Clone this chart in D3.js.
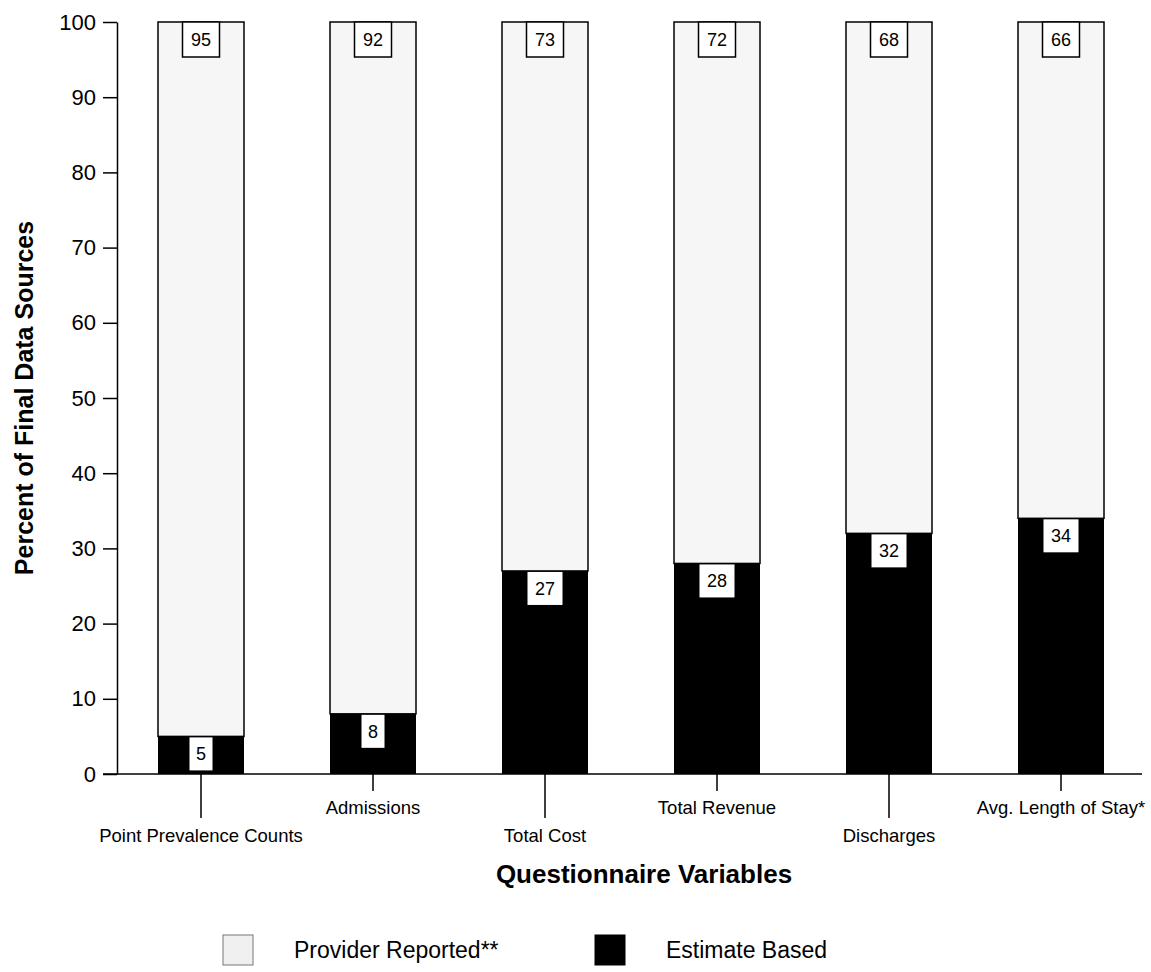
<!DOCTYPE html>
<html>
<head>
<meta charset="utf-8">
<script src="https://cdn.jsdelivr.net/npm/d3@7"></script>
<style>
  html, body { margin: 0; padding: 0; background: #fff; }
  svg { display: block; font-family: Arial, "Liberation Sans", sans-serif; }
</style>
</head>
<body>
<svg id="chart" width="1151" height="972"></svg>
<script>
// ---- data ----
const categories = ["Point Prevalence Counts", "Admissions", "Total Cost", "Total Revenue", "Discharges", "Avg. Length of Stay*"];
const estimateBased = [5, 8, 27, 28, 32, 34];
const providerReported = [95, 92, 73, 72, 68, 66];
const yTicks = [0, 10, 20, 30, 40, 50, 60, 70, 80, 90, 100];
const seriesNames = ["Provider Reported**", "Estimate Based"];

// ---- layout ----
const svg = d3.select("#chart");
const y = d3.scaleLinear().domain([0, 100]).range([774, 22]);
const x = d3.scalePoint().domain(categories).range([201, 1061]);
const barW = 86;
const axisX = 117;

const providerFill = "#f6f6f6";

// y axis
const yAxis = d3.axisLeft(y).tickValues(yTicks).tickSize(14).tickPadding(7).tickSizeOuter(0);
const yg = svg.append("g").attr("transform", `translate(${axisX},0)`).call(yAxis);
yg.select(".domain").attr("stroke", "#000").attr("stroke-width", 1.5);
yg.selectAll(".tick line").attr("stroke", "#000").attr("stroke-width", 1.5);
yg.selectAll(".tick text").attr("font-size", 22).attr("fill", "#000")
  .attr("font-family", "Arial, 'Liberation Sans', sans-serif");

// x axis baseline
svg.append("line")
  .attr("x1", axisX - 14).attr("x2", 1142)
  .attr("y1", y(0)).attr("y2", y(0))
  .attr("stroke", "#000").attr("stroke-width", 1.5);

// bars
const rows = categories.map((c, i) => ({ c, i, est: estimateBased[i], prov: providerReported[i] }));

const bars = svg.append("g").selectAll("g").data(rows).join("g");
// provider (top segment)
bars.append("rect")
  .attr("x", d => x(d.c) - barW / 2)
  .attr("y", d => y(d.est + d.prov))
  .attr("width", barW)
  .attr("height", d => y(d.est) - y(d.est + d.prov))
  .attr("fill", providerFill)
  .attr("stroke", "#000").attr("stroke-width", 1.5);
// estimate (bottom segment)
bars.append("rect")
  .attr("x", d => x(d.c) - barW / 2)
  .attr("y", d => y(d.est))
  .attr("width", barW)
  .attr("height", d => y(0) - y(d.est))
  .attr("fill", "#000");

// value labels
bars.each(function(d) {
  const g = d3.select(this);
  const cx = x(d.c);
  const t = String(d.prov);
  const w = t.length === 1 ? 23 : 37;
  g.append("rect")
    .attr("x", cx - w / 2).attr("y", y(d.est + d.prov))
    .attr("width", w).attr("height", 35)
    .attr("fill", "#fff").attr("stroke", "#000").attr("stroke-width", 1.5);
  g.append("text")
    .attr("x", cx).attr("y", y(d.est + d.prov) + 24)
    .attr("text-anchor", "middle").attr("font-size", 18).attr("fill", "#000")
    .text(t);
  const t2 = String(d.est);
  const w2 = t2.length === 1 ? 23 : 35;
  g.append("rect")
    .attr("x", cx - w2 / 2).attr("y", y(d.est) + 1)
    .attr("width", w2).attr("height", 33)
    .attr("fill", "#fff");
  g.append("text")
    .attr("x", cx).attr("y", y(d.est) + 24)
    .attr("text-anchor", "middle").attr("font-size", 18).attr("fill", "#000")
    .text(t2);
});

// category ticks and staggered labels
const catG = svg.append("g").selectAll("g").data(rows).join("g");
catG.append("line")
  .attr("x1", d => x(d.c)).attr("x2", d => x(d.c))
  .attr("y1", y(0)).attr("y2", d => d.i % 2 === 0 ? 818 : 791)
  .attr("stroke", "#000").attr("stroke-width", 1.5);
catG.append("text")
  .attr("x", d => x(d.c))
  .attr("y", d => d.i % 2 === 0 ? 842 : 814)
  .attr("text-anchor", "middle").attr("font-size", 18.5).attr("fill", "#000")
  .text(d => d.c);

// axis titles
svg.append("text")
  .attr("transform", `translate(33, ${y(50)}) rotate(-90)`)
  .attr("text-anchor", "middle").attr("font-size", 25).attr("font-weight", "bold")
  .text("Percent of Final Data Sources");
svg.append("text")
  .attr("x", 644).attr("y", 883)
  .attr("text-anchor", "middle").attr("font-size", 26).attr("font-weight", "bold")
  .text("Questionnaire Variables");

// legend
const legend = svg.append("g").attr("transform", "translate(223, 935)");
const lg = legend.selectAll("g").data(seriesNames).join("g")
  .attr("transform", (d, i) => `translate(${i * 372},0)`);
lg.append("rect")
  .attr("x", 0).attr("y", 0).attr("width", 30).attr("height", 30)
  .attr("fill", (d, i) => i === 0 ? "#f0f0f0" : "#000")
  .attr("stroke", (d, i) => i === 0 ? "#777" : "#000").attr("stroke-width", 1);
lg.append("text")
  .attr("x", 71).attr("y", 23)
  .attr("font-size", 23).attr("fill", "#000")
  .text(d => d);
</script>
</body>
</html>
